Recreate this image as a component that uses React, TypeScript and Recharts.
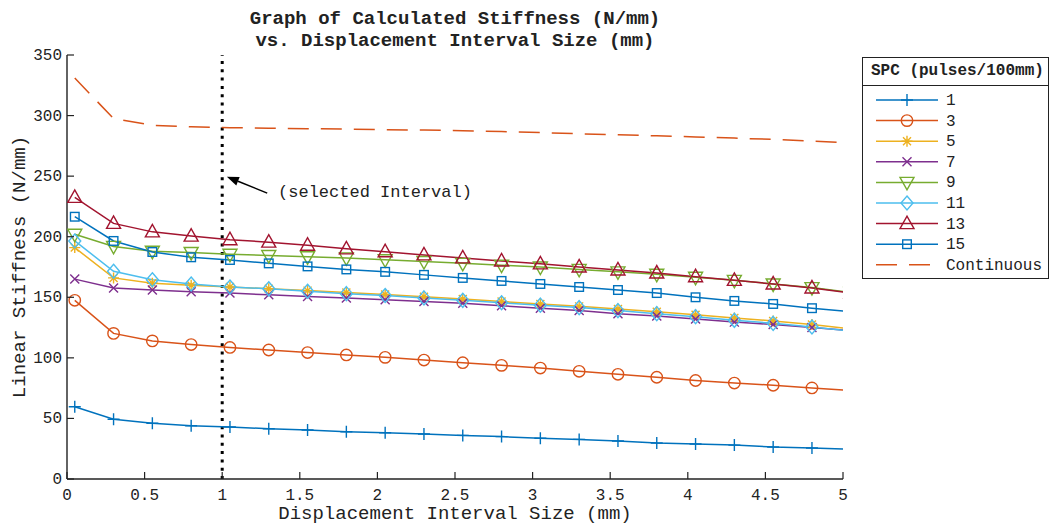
import { LineChart, Line, XAxis, YAxis, ReferenceLine, Legend } from 'recharts';

const FONT = '"Liberation Mono", "DejaVu Sans Mono", monospace';
const INK = '#222';

// displacement interval sizes (mm); last point lies just past the axis and is clipped
const intervals = [0.05, 0.3, 0.55, 0.8, 1.05, 1.3, 1.55, 1.8, 2.05, 2.3, 2.55, 2.8, 3.05, 3.3, 3.55, 3.8, 4.05, 4.3, 4.55, 4.8, 5.05];

// stiffness (N/mm) per SPC setting
const spc1 = [59.7, 49.3, 46.0, 44.0, 42.9, 41.5, 40.5, 39.0, 38.2, 37.1, 36.0, 35.0, 33.6, 32.7, 31.4, 29.7, 28.9, 28.0, 26.4, 25.6, 24.5];
const spc3 = [147.5, 120.2, 114.0, 111.0, 108.6, 106.5, 104.4, 102.4, 100.4, 98.2, 96.0, 93.8, 91.6, 88.9, 86.4, 84.0, 81.3, 79.2, 77.4, 75.2, 73.0];
const spc5 = [191, 166, 161.6, 160, 158.5, 157, 155.5, 154, 152.3, 150.5, 148.5, 146.5, 144.5, 142.5, 140.3, 138, 135.5, 133, 130.5, 127.5, 124];
const spc7 = [165, 157.7, 156, 154.5, 153.5, 152, 150.7, 149.4, 148, 146.5, 145, 143, 141, 139, 136.5, 134.5, 132, 129.5, 127.5, 125, 122.5];
const spc9 = [202, 192, 188, 187, 185.5, 184.5, 183.5, 182.5, 181, 179.5, 178, 176.5, 175, 173, 171, 169, 166.5, 164, 161, 158, 154];
const spc11 = [196.5, 171.5, 164.5, 161, 158.5, 157, 155, 153, 151.5, 149.5, 147.5, 145.5, 143.5, 141.5, 139, 136.5, 134, 131, 128.5, 125.5, 122];
const spc13 = [232.5, 211, 204, 200.5, 197.5, 195.5, 193, 190, 187.6, 185, 182.5, 180, 177.6, 175, 172.5, 170, 167, 164, 161, 157.7, 153.5];
const spc15 = [216.5, 196.5, 187.4, 183, 180.8, 178, 175.5, 173, 171, 168.5, 166, 163.5, 161, 158.5, 156, 153.5, 150, 147, 144.5, 141, 138];
const continuous = [331, 297.5, 292, 290.7, 290, 289.6, 289.2, 288.8, 288.4, 288, 287.5, 286.8, 286, 285, 284.2, 283.3, 282.4, 281.4, 280.3, 279, 277.3];

const xTicks = [0, 0.5, 1, 1.5, 2, 2.5, 3, 3.5, 4, 4.5, 5];
const yTicks = [0, 50, 100, 150, 200, 250, 300, 350];

const seriesList = [
  { name: '1', values: spc1, color: '#0072BD', marker: 'plus' },
  { name: '3', values: spc3, color: '#D95319', marker: 'circle' },
  { name: '5', values: spc5, color: '#EDB120', marker: 'star' },
  { name: '7', values: spc7, color: '#7E2F8E', marker: 'cross' },
  { name: '9', values: spc9, color: '#77AC30', marker: 'down' },
  { name: '11', values: spc11, color: '#4DBEEE', marker: 'diamond' },
  { name: '13', values: spc13, color: '#A2142F', marker: 'up' },
  { name: '15', values: spc15, color: '#0072BD', marker: 'square' },
  { name: 'Continuous', values: continuous, color: '#D95319', marker: 'none', dash: '21 12' },
];

const chartData = intervals.map((x, i) => {
  const row: Record<string, number> = { x };
  seriesList.forEach((s) => { row[s.name] = s.values[i]; });
  return row;
});

// plot box in pixels
const W = 1051, H = 526;
const PL = 67, PR = 843, PT = 55, PB = 479;
const px = (v: number) => PL + (v / 5) * (PR - PL);
const py = (v: number) => PB - (v / 350) * (PB - PT);

function Marker({ kind, cx, cy, color }: { kind: string; cx: number; cy: number; color: string }) {
  const p = { fill: 'none', stroke: color, strokeWidth: 1.4 };
  if (cx == null || cy == null) return null;
  switch (kind) {
    case 'plus':
      return <path d={`M${cx - 6},${cy}H${cx + 6}M${cx},${cy - 6}V${cy + 6}`} {...p} />;
    case 'circle':
      return <circle cx={cx} cy={cy} r={5.7} {...p} />;
    case 'star':
      return <path d={`M${cx - 5.5},${cy}H${cx + 5.5}M${cx},${cy - 5.5}V${cy + 5.5}M${cx - 4},${cy - 4}L${cx + 4},${cy + 4}M${cx - 4},${cy + 4}L${cx + 4},${cy - 4}`} {...p} />;
    case 'cross':
      return <path d={`M${cx - 4.5},${cy - 4.5}L${cx + 4.5},${cy + 4.5}M${cx - 4.5},${cy + 4.5}L${cx + 4.5},${cy - 4.5}`} {...p} />;
    case 'down':
      return <path d={`M${cx - 7},${cy - 5}H${cx + 7}L${cx},${cy + 7.5}Z`} {...p} />;
    case 'up':
      return <path d={`M${cx - 7},${cy + 5}H${cx + 7}L${cx},${cy - 7.5}Z`} {...p} />;
    case 'diamond':
      return <path d={`M${cx},${cy - 7}L${cx + 6},${cy}L${cx},${cy + 7}L${cx - 6},${cy}Z`} {...p} />;
    case 'square':
      return <rect x={cx - 4.3} y={cy - 4.3} width={8.6} height={8.6} {...p} />;
    default:
      return null;
  }
}

const BottomTick = ({ x, y, payload }: any) => (
  <g>
    <line x1={x} y1={y} x2={x} y2={y - 7} stroke={INK} strokeWidth={1.2} />
    <text x={x} y={y + 21} textAnchor="middle" fontFamily={FONT} fontSize={16} fill={INK}>{payload.value}</text>
  </g>
);
const TopTick = ({ x, y }: any) => <line x1={x} y1={y} x2={x} y2={y + 7} stroke={INK} strokeWidth={1.2} />;
const LeftTick = ({ x, y, payload }: any) => (
  <g>
    <line x1={x} y1={y} x2={x + 7} y2={y} stroke={INK} strokeWidth={1.2} />
    <text x={x - 5} y={y + 5} textAnchor="end" fontFamily={FONT} fontSize={16} fill={INK}>{payload.value}</text>
  </g>
);
const RightTick = ({ x, y }: any) => <line x1={x} y1={y} x2={x - 7} y2={y} stroke={INK} strokeWidth={1.2} />;

const renderLegend = (props: any) => {
  const order = seriesList.map((s) => s.name);
  const items = [...(props.payload || [])].sort((a: any, b: any) => order.indexOf(a.value) - order.indexOf(b.value));
  return (
    <div style={{ border: `1.3px solid ${INK}`, background: '#fff', fontFamily: FONT, width: 187, height: 222, boxSizing: 'border-box' }}>
      <div style={{ fontWeight: 'bold', fontSize: 16, height: 27, lineHeight: '27px', borderBottom: `1.3px solid ${INK}`, paddingLeft: 8, color: INK, whiteSpace: 'nowrap' }}>
        SPC (pulses/100mm)
      </div>
      <svg width={185} height={192} style={{ display: 'block' }}>
        {items.map((it: any, i: number) => {
          const s = seriesList.find((d) => d.name === it.value)!;
          const cy = 14 + i * 20.6;
          return (
            <g key={it.value}>
              <line x1={13} y1={cy} x2={75} y2={cy} stroke={s.color} strokeWidth={1.5} strokeDasharray={s.dash} />
              <Marker kind={s.marker} cx={44} cy={cy} color={s.color} />
              <text x={83} y={cy + 5} fontFamily={FONT} fontSize={16} fill={INK}>{it.value}</text>
            </g>
          );
        })}
      </svg>
    </div>
  );
};

// annotation arrow (data coords)
const arrowTail = { x: 1.29, y: 236 };
const arrowTip = { x: 1.03, y: 249.5 };
const noteAt = { x: 1.36, y: 237 };

function Overlay() {
  const tx = px(arrowTip.x), ty = py(arrowTip.y);
  const sx = px(arrowTail.x), sy = py(arrowTail.y);
  const dx = tx - sx, dy = ty - sy;
  const len = Math.hypot(dx, dy);
  const ux = dx / len, uy = dy / len;
  const bx = tx - ux * 12, by = ty - uy * 12;
  const head = `${tx},${ty} ${bx - uy * 4.5},${by + ux * 4.5} ${bx + uy * 4.5},${by - ux * 4.5}`;
  const cx = (PL + PR) / 2;
  return (
    <svg width={W} height={H} style={{ position: 'absolute', left: 0, top: 0, pointerEvents: 'none' }}>
      <text x={cx} y={24} textAnchor="middle" fontFamily={FONT} fontSize={19} fontWeight="bold" fill={INK}>Graph of Calculated Stiffness (N/mm)</text>
      <text x={cx} y={46} textAnchor="middle" fontFamily={FONT} fontSize={19} fontWeight="bold" fill={INK}>vs. Displacement Interval Size (mm)</text>
      <line x1={sx} y1={sy} x2={bx} y2={by} stroke="#000" strokeWidth={1.5} />
      <polygon points={head} fill="#000" />
      <text x={px(noteAt.x)} y={py(noteAt.y) + 5} fontFamily={FONT} fontSize={17} fill={INK}>(selected Interval)</text>
    </svg>
  );
}

export default function App() {
  return (
    <div style={{ position: 'absolute', left: 0, top: 0, width: W, height: H, background: '#fff' }}>
      <LineChart
        width={W}
        height={H}
        data={chartData}
        margin={{ top: PT, right: W - PR, bottom: 0, left: 0 }}
        style={{ fontFamily: FONT }}
      >
        <XAxis
          dataKey="x"
          type="number"
          domain={[0, 5]}
          ticks={xTicks}
          interval={0}
          allowDataOverflow
          height={H - PB}
          tickSize={0}
          tickMargin={0}
          tick={<BottomTick />}
          axisLine={{ stroke: INK, strokeWidth: 1.4 }}
          label={{ value: 'Displacement Interval Size (mm)', position: 'insideBottom', offset: 7, fontFamily: FONT, fontSize: 19, fill: INK }}
        />
        <XAxis
          xAxisId="top"
          orientation="top"
          dataKey="x"
          type="number"
          domain={[0, 5]}
          ticks={xTicks}
          interval={0}
          allowDataOverflow
          height={0}
          tickSize={0}
          tickMargin={0}
          tick={<TopTick />}
          axisLine={{ stroke: INK, strokeWidth: 1.4 }}
        />
        <YAxis
          type="number"
          domain={[0, 350]}
          ticks={yTicks}
          interval={0}
          allowDataOverflow
          width={PL}
          tickSize={0}
          tickMargin={0}
          tick={<LeftTick />}
          axisLine={{ stroke: INK, strokeWidth: 1.4 }}
          label={{ value: 'Linear Stiffness (N/mm)', angle: -90, position: 'insideLeft', offset: 18, fontFamily: FONT, fontSize: 19, fill: INK, style: { textAnchor: 'middle' } }}
        />
        <YAxis
          yAxisId="right"
          orientation="right"
          type="number"
          domain={[0, 350]}
          ticks={yTicks}
          interval={0}
          allowDataOverflow
          width={0}
          tickSize={0}
          tickMargin={0}
          tick={<RightTick />}
          axisLine={{ stroke: INK, strokeWidth: 1.4 }}
        />
        <ReferenceLine x={1} stroke="#000" strokeWidth={3} strokeDasharray="3 5.3" />
        {seriesList.map((s) => (
          <Line
            key={s.name}
            name={s.name}
            dataKey={s.name}
            type="linear"
            stroke={s.color}
            strokeWidth={1.5}
            strokeDasharray={s.dash}
            isAnimationActive={false}
            dot={
              s.marker === 'none'
                ? false
                : (p: any) => <Marker key={`${s.name}-${p.index}`} kind={s.marker} cx={p.cx} cy={p.cy} color={s.color} />
            }
            activeDot={false}
          />
        ))}
        <Legend
          layout="vertical"
          align="center"
          verticalAlign="middle"
          content={renderLegend}
          wrapperStyle={{ left: 862, top: 57, width: 187, height: 222 }}
        />
      </LineChart>
      <Overlay />
    </div>
  );
}
